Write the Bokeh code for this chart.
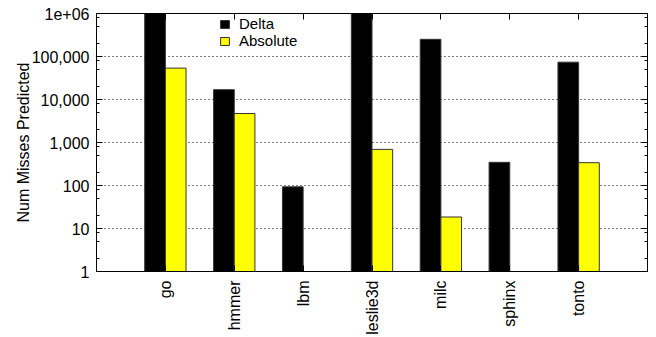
import math
from bokeh.plotting import figure
from bokeh.models import (ColumnDataSource, Range1d, FixedTicker, LinearAxis,
                          LogAxis, Legend, LegendItem, CustomLabelingPolicy)
from bokeh.transform import dodge
from bokeh.embed import file_html
from bokeh.resources import INLINE

# Benchmarks and predicted miss counts per predictor
benchmarks = ["go", "hmmer", "lbm", "leslie3d", "milc", "sphinx", "tonto"]
delta = [1000000, 16900, 93, 1000000, 251000, 346, 73800]
absolute = [53700, 4720, 1, 692, 18.5, 1, 339]

# Log axis decades and their labels
y_ticks = [1, 10, 100, 1000, 10000, 100000, 1000000]
y_tick_labels = ["1", "10", "100", "1,000", "10,000", "100,000", "1e+06"]
minor_mantissas = [2, 5, 8]

positions = list(range(1, len(benchmarks) + 1))
source = ColumnDataSource(data=dict(pos=positions, name=benchmarks,
                                    delta=delta, absolute=absolute))

FONT = "Liberation Sans"

p = figure(width=656, height=337, output_backend="svg", toolbar_location=None,
           y_axis_type="log", x_range=Range1d(0, len(benchmarks) + 1),
           y_range=Range1d(1, 1e6),
           min_border_left=96, min_border_right=9, min_border_top=13,
           min_border_bottom=65)
p.background_fill_color = "white"
p.border_fill_color = "white"
p.outline_line_color = "black"
p.outline_line_width = 1

bar_w = 0.3
r_delta = p.vbar(x=dodge("pos", -bar_w / 2, range=p.x_range), width=bar_w,
                 bottom=1, top="delta", source=source,
                 fill_color="black", line_color="#333333", line_width=1)
r_abs = p.vbar(x=dodge("pos", bar_w / 2, range=p.x_range), width=bar_w,
               bottom=1, top="absolute", source=source,
               fill_color="#ffff00", line_color="#333333", line_width=1)

minor = [m * d for d in y_ticks[:-1] for m in minor_mantissas]
y_ticker = FixedTicker(ticks=y_ticks, minor_ticks=minor)
x_ticker = FixedTicker(ticks=positions, minor_ticks=[])

# left axis
ya = p.yaxis[0]
ya.ticker = y_ticker
ya.major_label_overrides = {t: lab for t, lab in zip(y_ticks, y_tick_labels)}
ya.axis_label = "Num Misses Predicted"
ya.axis_label_text_font = FONT
ya.axis_label_text_font_size = "16px"
ya.axis_label_text_font_style = "normal"
ya.axis_label_text_color = "black"
ya.axis_label_standoff = -3
ya.major_label_text_font = FONT
ya.major_label_text_font_size = "16px"
ya.major_label_standoff = 7

# bottom axis
xa = p.xaxis[0]
xa.ticker = x_ticker
xa.major_label_overrides = {pos: name for pos, name in zip(positions, benchmarks)}
xa.major_label_orientation = math.pi / 2
xa.major_label_text_font = FONT
xa.major_label_text_font_size = "16px"
xa.major_label_standoff = 9

for ax in (ya, xa):
    ax.axis_line_color = "black"
    ax.major_tick_in = 6
    ax.major_tick_out = 0
    ax.minor_tick_in = 3
    ax.minor_tick_out = 0
    ax.major_label_text_color = "black"

# mirrored tick marks on top and right, with their labels suppressed
hide_all = CustomLabelingPolicy(code="""
    const all = [...indices]
    for (const i of all) indices.unset(i)
    return indices
""")
top_ax = LinearAxis(ticker=x_ticker, major_tick_in=6, major_tick_out=0,
                    minor_tick_in=0, minor_tick_out=0,
                    major_label_policy=hide_all,
                    major_label_text_font_size="2px", major_label_standoff=0,
                    axis_line_color="black")
right_ax = LogAxis(ticker=y_ticker, major_tick_in=6, major_tick_out=0,
                   minor_tick_in=3, minor_tick_out=0,
                   major_label_policy=hide_all,
                   major_label_text_font_size="2px", major_label_standoff=0,
                   axis_line_color="black")
p.add_layout(top_ax, "above")
p.add_layout(right_ax, "right")

p.xgrid.visible = False
p.ygrid.ticker = y_ticker
p.ygrid.grid_line_color = "black"
p.ygrid.grid_line_dash = "1 3"
p.ygrid.grid_line_width = 1

legend = Legend(items=[LegendItem(label="Delta", renderers=[r_delta]),
                       LegendItem(label="Absolute", renderers=[r_abs])],
                location=(123, 222), orientation="vertical",
                glyph_width=11, glyph_height=10, label_standoff=9,
                label_text_font=FONT, label_text_font_size="15px",
                label_text_color="black",
                label_height=12, spacing=-5, padding=0, margin=0,
                border_line_color=None, background_fill_alpha=0)
p.add_layout(legend, "center")

open("out.html", "w").write(file_html(p, INLINE))
